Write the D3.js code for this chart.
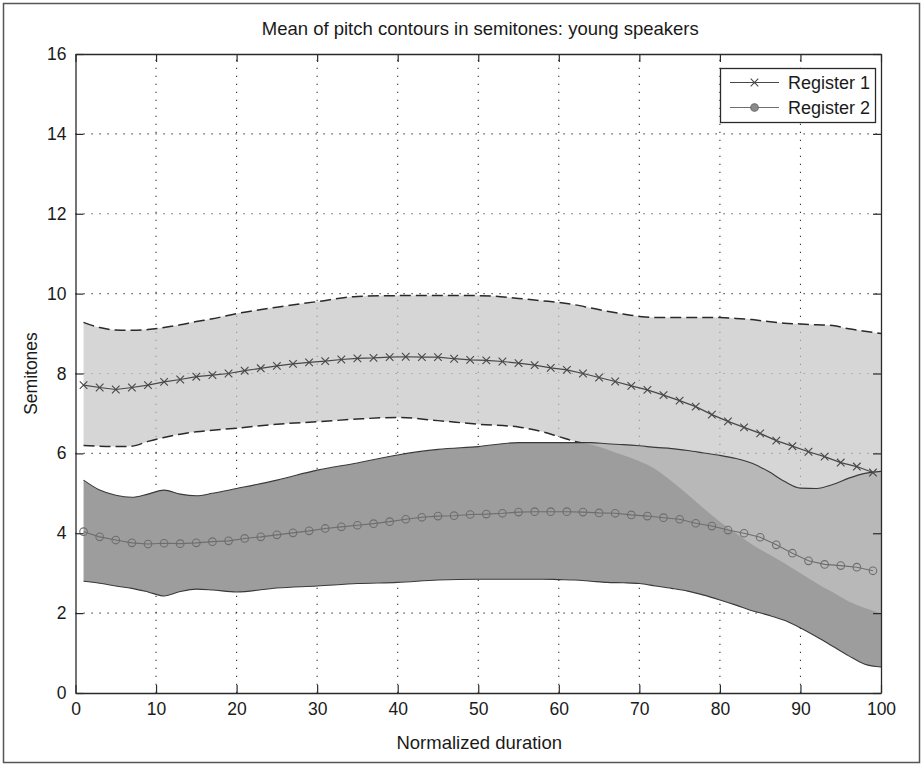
<!DOCTYPE html>
<html>
<head>
<meta charset="utf-8">
<script src="https://cdn.jsdelivr.net/npm/d3@7/dist/d3.min.js"></script>
<style>
  html, body { margin: 0; padding: 0; background: #fff; }
  svg { display: block; font-family: "Liberation Sans", Arial, Helvetica, sans-serif; }
</style>
</head>
<body>
<svg id="chart" width="923" height="766"></svg>
<script>
// Sample positions (normalized duration) of the mean contours
const meanX = d3.range(1, 100, 2);

// Register 1 mean contour (semitones)
const reg1Mean = [7.71, 7.65, 7.60, 7.65, 7.71, 7.79, 7.85, 7.92, 7.96, 8.00,
                  8.07, 8.13, 8.19, 8.24, 8.28, 8.31, 8.35, 8.38, 8.39, 8.41,
                  8.42, 8.41, 8.41, 8.37, 8.34, 8.33, 8.30, 8.26, 8.21, 8.14,
                  8.09, 8.00, 7.90, 7.80, 7.69, 7.59, 7.46, 7.32, 7.17, 6.97,
                  6.80, 6.65, 6.50, 6.32, 6.18, 6.04, 5.92, 5.77, 5.67, 5.52];

// Register 2 mean contour (semitones)
const reg2Mean = [4.04, 3.91, 3.83, 3.76, 3.73, 3.75, 3.74, 3.76, 3.79, 3.81,
                  3.87, 3.91, 3.96, 4.01, 4.06, 4.12, 4.16, 4.20, 4.24, 4.29,
                  4.35, 4.40, 4.43, 4.44, 4.47, 4.48, 4.50, 4.53, 4.54, 4.54,
                  4.54, 4.53, 4.51, 4.50, 4.46, 4.43, 4.39, 4.35, 4.25, 4.18,
                  4.08, 4.00, 3.90, 3.71, 3.50, 3.31, 3.22, 3.19, 3.15, 3.06];

// Positions of the spread envelopes
const bandX = [1, 3, 5, 7, 9, 11, 13, 15, 17, 20, 25, 30, 35, 40, 45, 50, 55, 58, 60,
               62, 64, 66, 68, 70, 72, 74, 76, 78, 80, 82, 84, 86, 88, 90, 92, 94, 96, 98, 100];

// Register 1 envelope (upper / lower)
const reg1Upper = [9.28, 9.15, 9.09, 9.08, 9.10, 9.15, 9.22, 9.30, 9.37, 9.50, 9.66, 9.80, 9.93,
                   9.95, 9.95, 9.95, 9.88, 9.82, 9.78, 9.72, 9.64, 9.56, 9.49, 9.43, 9.40, 9.40,
                   9.40, 9.40, 9.40, 9.38, 9.35, 9.30, 9.26, 9.24, 9.22, 9.20, 9.12, 9.06, 9.00];
const reg1Lower = [6.20, 6.18, 6.17, 6.18, 6.30, 6.40, 6.48, 6.54, 6.58, 6.63, 6.73, 6.79, 6.86,
                   6.90, 6.82, 6.73, 6.66, 6.54, 6.42, 6.30, 6.22, 6.10, 5.95, 5.80, 5.60, 5.30,
                   4.97, 4.62, 4.29, 4.00, 3.72, 3.48, 3.25, 3.00, 2.75, 2.52, 2.29, 2.13, 2.00];

// Register 2 envelope (upper / lower)
const reg2Upper = [5.33, 5.08, 4.95, 4.90, 4.98, 5.08, 4.98, 4.94, 5.00, 5.12, 5.33, 5.58, 5.76,
                   5.96, 6.10, 6.17, 6.27, 6.27, 6.27, 6.27, 6.27, 6.24, 6.22, 6.19, 6.15, 6.12,
                   6.07, 6.01, 5.95, 5.87, 5.75, 5.55, 5.30, 5.13, 5.12, 5.22, 5.38, 5.50, 5.55];
const reg2Lower = [2.80, 2.75, 2.68, 2.62, 2.53, 2.43, 2.54, 2.60, 2.58, 2.53, 2.63, 2.68, 2.74,
                   2.77, 2.83, 2.85, 2.85, 2.85, 2.84, 2.83, 2.80, 2.77, 2.76, 2.74, 2.68, 2.62,
                   2.55, 2.45, 2.33, 2.20, 2.06, 1.95, 1.82, 1.63, 1.41, 1.17, 0.93, 0.72, 0.65];

const xTicks = d3.range(0, 101, 10);
const yTicks = d3.range(0, 17, 2);
const seriesNames = ["Register 1", "Register 2"];

const titleText = "Mean of pitch contours in semitones: young speakers";
const xTitle = "Normalized duration";
const yTitle = "Semitones";

const svg = d3.select("#chart");

const x = d3.scaleLinear().domain([0, 100]).range([75.5, 881]);
const y = d3.scaleLinear().domain([0, 16]).range([693, 54]);

const ink = "#2a2a2a";
const textInk = "#1a1a1a";

// figure frame
svg.append("rect")
  .attr("x", 3.5).attr("y", 3.5).attr("width", 916).attr("height", 759)
  .attr("fill", "#fff").attr("stroke", "#555").attr("stroke-width", 1.5);

// dotted grid
const grid = svg.append("g").attr("stroke", "#333").attr("stroke-width", 1.1)
  .attr("stroke-dasharray", "1.2,6.8");
grid.selectAll("line.v").data(xTicks.slice(1, -1)).join("line")
  .attr("x1", d => x(d)).attr("x2", d => x(d))
  .attr("y1", y(0)).attr("y2", y(16));
grid.selectAll("line.h").data(yTicks.slice(1, -1)).join("line")
  .attr("x1", x(0)).attr("x2", x(100))
  .attr("y1", d => y(d)).attr("y2", d => y(d));

const bandArea = (hi, lo) => d3.area()
  .x((d, i) => x(bandX[i]))
  .y0((d, i) => y(lo[i]))
  .y1((d, i) => y(hi[i]))
  .curve(d3.curveMonotoneX)(bandX);

const edgeLine = vals => d3.line()
  .x((d, i) => x(bandX[i]))
  .y((d, i) => y(vals[i]))
  .curve(d3.curveMonotoneX)(bandX);

// mask keeping Register 1 lower edge out of the Register 2 envelope
const defs = svg.append("defs");
const mask = defs.append("mask").attr("id", "outsideReg2")
  .attr("maskUnits", "userSpaceOnUse")
  .attr("x", 0).attr("y", 0).attr("width", 923).attr("height", 766);
mask.append("rect").attr("width", 923).attr("height", 766).attr("fill", "#fff");
mask.append("path").attr("d", bandArea(reg2Upper, reg2Lower)).attr("fill", "#000");

// Register 2 envelope (opaque)
svg.append("path").attr("d", bandArea(reg2Upper, reg2Lower))
  .attr("fill", "#9d9d9d");

// Register 1 envelope (translucent)
svg.append("path").attr("d", bandArea(reg1Upper, reg1Lower))
  .attr("fill", "#c4c4c4").attr("fill-opacity", 0.69);

// Register 2 envelope edges
svg.append("path").attr("d", edgeLine(reg2Upper))
  .attr("fill", "none").attr("stroke", "#3a3a3a").attr("stroke-width", 1.1);
svg.append("path").attr("d", edgeLine(reg2Lower))
  .attr("fill", "none").attr("stroke", "#3a3a3a").attr("stroke-width", 1.1);

// Register 1 envelope edges (dashed)
svg.append("path").attr("d", edgeLine(reg1Upper))
  .attr("fill", "none").attr("stroke", "#2a2a2a").attr("stroke-width", 1.5)
  .attr("stroke-dasharray", "11,5");
svg.append("path").attr("d", edgeLine(reg1Lower))
  .attr("mask", "url(#outsideReg2)")
  .attr("fill", "none").attr("stroke", "#2a2a2a").attr("stroke-width", 1.5)
  .attr("stroke-dasharray", "11,5");

// mean contours
const meanLine = vals => d3.line()
  .x((d, i) => x(meanX[i]))
  .y((d, i) => y(vals[i]))(meanX);

const r1Color = "#484848";
const r2Color = "#6e6e6e";

svg.append("path").attr("d", meanLine(reg1Mean))
  .attr("fill", "none").attr("stroke", r1Color).attr("stroke-width", 1.2);
const xMark = (g, cx, cy, s) => {
  g.append("path")
    .attr("d", `M${cx - s},${cy - s}L${cx + s},${cy + s}M${cx - s},${cy + s}L${cx + s},${cy - s}`)
    .attr("stroke", r1Color).attr("stroke-width", 1.1).attr("fill", "none");
};
const m1 = svg.append("g");
reg1Mean.forEach((v, i) => xMark(m1, x(meanX[i]), y(v), 3.8));

svg.append("path").attr("d", meanLine(reg2Mean))
  .attr("fill", "none").attr("stroke", r2Color).attr("stroke-width", 1.1);
svg.append("g").selectAll("circle").data(reg2Mean).join("circle")
  .attr("cx", (d, i) => x(meanX[i])).attr("cy", d => y(d)).attr("r", 3.8)
  .attr("fill", "none").attr("stroke", r2Color).attr("stroke-width", 1.1);

// axes (ticks pointing inward on all four sides)
const fmt = d3.format("d");
const axisFont = g => g.selectAll("text")
  .attr("font-size", 17.5).attr("fill", textInk)
  .attr("font-family", "'Liberation Sans', Arial, sans-serif");
const styleAxis = g => {
  g.select(".domain").attr("stroke", ink).attr("stroke-width", 1.3);
  g.selectAll(".tick line").attr("stroke", ink).attr("stroke-width", 1.2);
};

svg.append("g").attr("transform", `translate(0,${y(0)})`)
  .call(d3.axisBottom(x).tickValues(xTicks).tickFormat(fmt).tickSize(-8).tickPadding(10).tickSizeOuter(0))
  .call(styleAxis).call(axisFont);
svg.append("g").attr("transform", `translate(0,${y(16)})`)
  .call(d3.axisTop(x).tickValues(xTicks).tickFormat("").tickSize(-8).tickSizeOuter(0))
  .call(styleAxis);
svg.append("g").attr("transform", `translate(${x(0)},0)`)
  .call(d3.axisLeft(y).tickValues(yTicks).tickFormat(fmt).tickSize(-8).tickPadding(9).tickSizeOuter(0))
  .call(styleAxis).call(axisFont);
svg.append("g").attr("transform", `translate(${x(100)},0)`)
  .call(d3.axisRight(y).tickValues(yTicks).tickFormat("").tickSize(-8).tickSizeOuter(0))
  .call(styleAxis);

// titles
svg.append("text").attr("x", (x(0) + x(100)) / 2 + 2).attr("y", 35)
  .attr("text-anchor", "middle").attr("font-size", 18.5).attr("fill", textInk)
  .text(titleText);
svg.append("text").attr("x", (x(0) + x(100)) / 2 + 1).attr("y", 749)
  .attr("text-anchor", "middle").attr("font-size", 18.5).attr("fill", textInk)
  .text(xTitle);
svg.append("text").attr("transform", `translate(37,${(y(0) + y(16)) / 2}) rotate(-90)`)
  .attr("text-anchor", "middle").attr("font-size", 17.5).attr("fill", textInk)
  .text(yTitle);

// legend
const lg = svg.append("g");
lg.append("rect").attr("x", 720.5).attr("y", 68.5).attr("width", 155).attr("height", 54)
  .attr("fill", "#fff").attr("stroke", ink).attr("stroke-width", 1.3);
const rowY = [82.5, 107.5];
seriesNames.forEach((name, i) => {
  const col = i === 0 ? r1Color : r2Color;
  lg.append("line").attr("x1", 730).attr("x2", 779).attr("y1", rowY[i]).attr("y2", rowY[i])
    .attr("stroke", col).attr("stroke-width", 1.2);
  if (i === 0) xMark(lg, 754.5, rowY[i], 3.8);
  else lg.append("circle").attr("cx", 754.5).attr("cy", rowY[i]).attr("r", 3.8)
    .attr("fill", "#8a8a8a").attr("stroke", col).attr("stroke-width", 1.1);
  lg.append("text").attr("x", 788).attr("y", rowY[i]).attr("dy", "0.35em")
    .attr("font-size", 18).attr("fill", textInk).text(name);
});
</script>
</body>
</html>
